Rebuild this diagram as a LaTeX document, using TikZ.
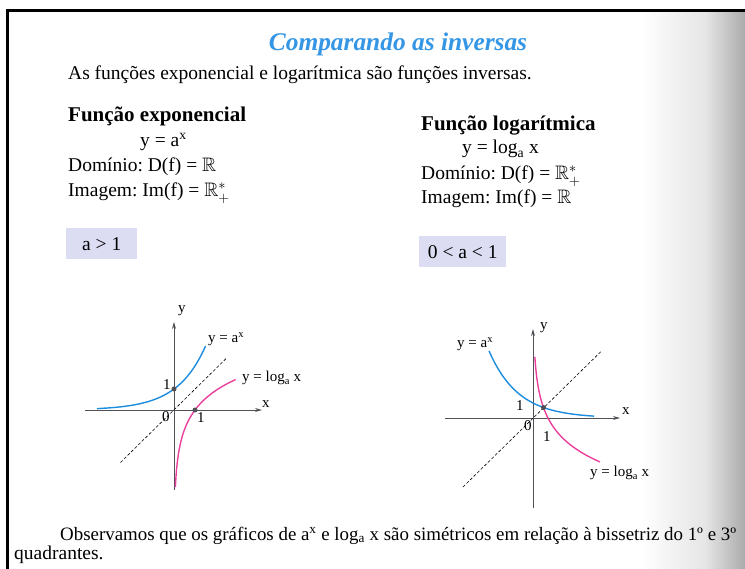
\documentclass[tikz,border=0pt]{standalone}
\usepackage{fontspec}
\setmainfont{Liberation Serif}
\usepackage{amssymb}
\usetikzlibrary{arrows.meta}
\frenchspacing

\definecolor{titleblue}{RGB}{52,150,228}
\definecolor{expblue}{RGB}{28,140,222}
\definecolor{logpink}{RGB}{234,64,156}
\definecolor{boxlilac}{RGB}{220,220,242}
\definecolor{axisgray}{RGB}{80,80,86}

\tikzset{
  bodytext/.style={anchor=base west, inner sep=0pt, font=\fontsize{19.5}{22}\selectfont},
  headtext/.style={anchor=base west, inner sep=0pt, font=\fontsize{21}{24}\selectfont\bfseries},
  graphlabel/.style={anchor=base west, inner sep=0pt, font=\fontsize{15}{18}\selectfont},
  condbox/.style={anchor=north west, fill=boxlilac, inner sep=0pt, font=\fontsize{19.5}{22}\selectfont},
  plotaxis/.style={axisgray, line width=0.8pt, -{Stealth[length=7pt,width=4pt]}},
  diagonal/.style={black, line width=0.6pt, dash pattern=on 3pt off 2pt},
  expcurve/.style={expblue, line width=1.4pt, smooth},
  logcurve/.style={logpink, line width=1.4pt, smooth},
  markdot/.style={circle, fill=axisgray, inner sep=0pt, minimum size=5pt}
}

\begin{document}
\begin{tikzpicture}[x=1pt, y=-1pt]
  \useasboundingbox (0,0) rectangle (745,569);

  % Page shadow at the right edge
  \shade[left color=white, right color=black!10] (640,12) rectangle (705,569);
  \shade[left color=black!10, right color=black!33] (705,12) rectangle (745,569);

  % Frame
  \draw[line width=3pt] (745,10.5) -- (7,10.5) -- (7,569);

  % Title and intro
  \node[anchor=base, inner sep=0pt, text=titleblue,
        font=\fontsize{25.4}{28}\selectfont\bfseries\itshape] (title) at (398,51) {Comparando as inversas};
  \node[bodytext] (intro) at (68,80) {As funções exponencial e logarítmica são funções inversas.};

  % --- Left column: exponential ---
  \node[headtext] (exphead) at (68,122) {Função exponencial};
  \node[bodytext] (expeq) at (140,147) {y = a\textsuperscript{x}};
  \node[bodytext] (expdom) at (68,172) {Domínio: D(f) = $\mathbb{R}$};
  \node[bodytext] (expim) at (68,197) {Imagem: Im(f) = $\smash{\mathbb{R}^{*}_{+}}$};
  \node[condbox, minimum width=71pt, minimum height=31pt] (expcond) at (66,228) {a > 1};

  % --- Right column: logarithmic ---
  \node[headtext] (loghead) at (421,131) {Função logarítmica};
  \node[bodytext] (logeq) at (462,154) {y = log\textsubscript{a} x};
  \node[bodytext] (logdom) at (421,180) {Domínio: D(f) = $\smash{\mathbb{R}^{*}_{+}}$};
  \node[bodytext] (logim) at (421,204) {Imagem: Im(f) = $\mathbb{R}$};
  \node[condbox, minimum width=87pt, minimum height=31pt] (logcond) at (419,236) {0 < a < 1};

  % --- Graph 1: a > 1 ---
  \begin{scope}[shift={(174,410)}, x=21pt, y=21pt]
    % Axes
    \draw[plotaxis] (-4.24,0) -- (4.19,0);
    \draw[plotaxis] (0,-3.81) -- (0,4.19);
    % Bisector
    \draw[diagonal] (-2.55,-2.5) -- (2.48,2.45);
    % Curves
    \draw[expcurve] plot[domain=-3.67:1.5, samples=60] ({\x},{exp(0.742*\x)});
    \draw[logcurve] plot[domain=-3.67:1.45, samples=60] ({exp(0.742*\x)},{\x});
    \node[markdot] (gonedot) at (0,1) {};
    \node[markdot] (gonexdot) at (1,0) {};
  \end{scope}
  \node[graphlabel] (goney) at (178,313) {y};
  \node[graphlabel] (gonex) at (262,408) {x};
  \node[graphlabel] (goneexp) at (208,343) {y = a\textsuperscript{x}};
  \node[graphlabel] (gonelog) at (242,382) {y = log\textsubscript{a} x};
  \node[graphlabel] (goneunity) at (163,390) {1};
  \node[graphlabel] (gonezero) at (162,422) {0};
  \node[graphlabel] (goneunitx) at (197,423) {1};

  % --- Graph 2: 0 < a < 1 ---
  \begin{scope}[shift={(533,418)}, x=15pt, y=15pt]
    % Axes
    \draw[plotaxis] (-5.87,0) -- (5.8,0);
    \draw[plotaxis] (0,-6.0) -- (0,5.93);
    % Bisector
    \draw[diagonal] (-4.67,-4.6) -- (4.6,4.5);
    % Curves
    \draw[expcurve] plot[domain=-2.93:4.07, samples=60] ({\x},{exp(-0.5108*\x)});
    \draw[logcurve] plot[domain=-2.93:4.07, samples=60] ({exp(-0.5108*\x)},{\x});
    \node[markdot] (gtwodot) at (0.6994,0.6994) {};
  \end{scope}
  \node[graphlabel] (gtwoy) at (540,330) {y};
  \node[graphlabel] (gtwox) at (622,415) {x};
  \node[graphlabel] (gtwoexp) at (457,348) {y = a\textsuperscript{x}};
  \node[graphlabel] (gtwolog) at (590,477) {y = log\textsubscript{a} x};
  \node[graphlabel] (gtwounity) at (516,411) {1};
  \node[graphlabel] (gtwozero) at (524,431) {0};
  \node[graphlabel] (gtwounitx) at (543,442) {1};

  % Closing remark
  \node[bodytext, font=\fontsize{18.9}{22}\selectfont] (remark) at (60,540) {Observamos que os gráficos de a\textsuperscript{x} e log\textsubscript{a} x são simétricos em relação à bissetriz do 1º e 3º};
  \node[bodytext] (remarkend) at (14,559) {quadrantes.};
\end{tikzpicture}
\end{document}
